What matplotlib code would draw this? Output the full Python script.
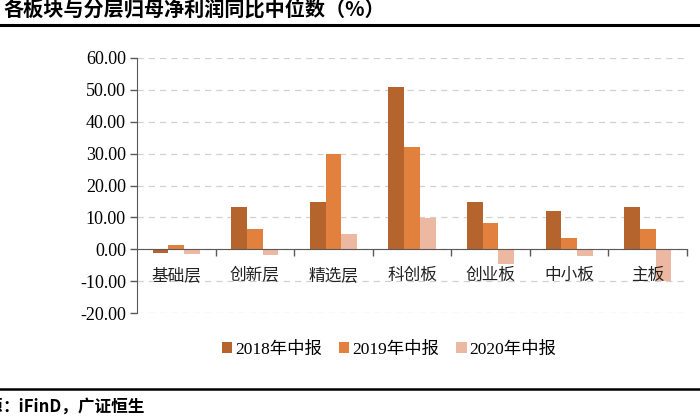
"""
各板块与分层归母净利润同比中位数柱状图，输出 out.png (700x419)。
"""
import numpy as np
import matplotlib
matplotlib.use("Agg")
import matplotlib.pyplot as plt
from matplotlib.lines import Line2D
from matplotlib.patches import Patch

# ---------- 資料 ----------
categories = ["基础层", "创新层", "精选层", "科创板", "创业板", "中小板", "主板"]
series_names = ["2018年中报", "2019年中报", "2020年中报"]
h2018 = [-1.2, 13.3, 14.7, 51.0, 14.8, 12.1, 13.4]
h2019 = [1.2, 6.3, 30.0, 32.0, 8.1, 3.6, 6.5]
h2020 = [-1.6, -1.8, 4.7, 9.9, -4.7, -2.1, -10.1]
yticks = [-20, -10, 0, 10, 20, 30, 40, 50, 60]

COLORS = ["#B6642E", "#E2813D", "#EDB8A2"]
SERIF = ["Liberation Serif", "Noto Sans CJK SC"]
CJK = ["Noto Sans CJK SC", "DejaVu Sans"]

W, H = 700, 419
fig = plt.figure(figsize=(W / 100, H / 100), dpi=100)
ax = fig.add_axes([137 / W, 106 / H, 550 / W, 255 / H])

x = np.arange(len(categories))
bw = 0.2
for i, (vals, name) in enumerate(zip([h2018, h2019, h2020], series_names)):
    ax.bar(x + (i - 1) * bw, vals, width=bw, color=COLORS[i], label=name, zorder=2)

ax.set_xlim(-0.5, len(categories) - 0.5)
ax.set_ylim(-20, 60)
ax.set_yticks(yticks)
ax.set_yticklabels([f"{v:.2f}" for v in yticks], fontfamily=SERIF, fontsize=13)
ax.tick_params(axis="y", length=5, width=1, color="#595959", pad=3)

# 格線(虛線)
ax.yaxis.grid(True, ls=(0, (5, 4)), color="#D0D0D0", lw=0.9)
ax.set_axisbelow(False)
ax.yaxis.set_zorder(0.5)

# x 軸放在 0 的位置，刻度畫在類別邊界，類別名放中間(字要蓋在柱子上面)
for s in ("top", "right"):
    ax.spines[s].set_visible(False)
ax.spines["left"].set_color("#595959")
ax.spines["bottom"].set_position(("data", 0))
ax.spines["bottom"].set_color("#595959")
ax.spines["bottom"].set_zorder(4)
ax.xaxis.set_zorder(5)
ax.set_xticks(np.arange(0.5, len(categories), 1.0))
ax.set_xticklabels([])
ax.tick_params(axis="x", which="major", length=5, width=1, color="#595959", direction="out")
ax.set_xticks(x, minor=True)
ax.set_xticklabels(categories, minor=True, fontfamily=CJK, fontsize=12, color="#222222")
ax.tick_params(axis="x", which="minor", length=0, pad=13)

# 圖例
handles = [Patch(facecolor=c, edgecolor="none") for c in COLORS]
fig.legend(handles, series_names, loc="center", bbox_to_anchor=(389 / W, 1 - 350 / H),
           ncol=3, frameon=False, prop={"family": SERIF, "size": 12.5},
           handlelength=0.6, handleheight=0.6, handletextpad=0.15, columnspacing=1.0)

# 標題、分隔線、資料來源
fig.text(3 / W, 1 - 10 / H, "各板块与分层归母净利润同比中位数（%）", ha="left", va="center",
         fontfamily=CJK, fontsize=14.5, fontweight="bold")
fig.add_artist(Line2D([0, 1], [1 - 25.5 / H] * 2, color="black", lw=2.2))
fig.add_artist(Line2D([0, 1], [1 - 389 / H] * 2, color="black", lw=1.8))
fig.text(3 / W, 1 - 407 / H, "数据来源", ha="right", va="center",
         fontfamily=CJK, fontsize=12, fontweight="bold")
fig.text(2 / W, 1 - 407 / H, "：iFinD，广证恒生", ha="left", va="center",
         fontfamily=CJK, fontsize=12, fontweight="bold")

fig.savefig("out.png", dpi=100)
